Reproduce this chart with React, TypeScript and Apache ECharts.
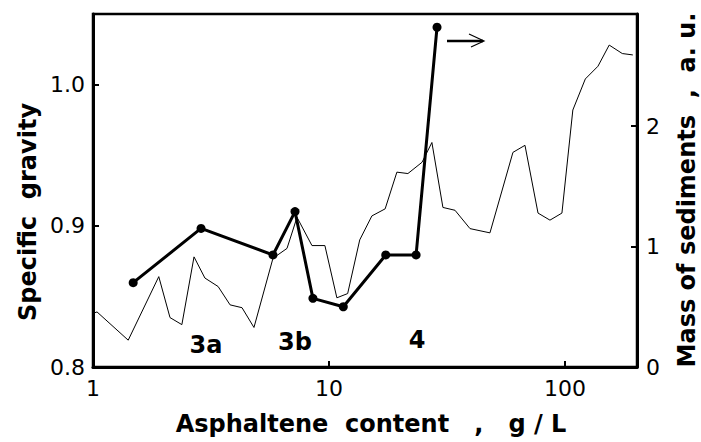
import React, { useEffect, useRef } from "react";
import * as echarts from "echarts";

// Specific gravity (thin line, left axis)
const gravityX = [1.0, 1.04, 1.41, 1.9, 2.12, 2.38, 2.68, 2.98, 3.39, 3.81, 4.28, 4.81, 5.79, 6.64, 7.32, 8.47, 9.61, 10.8, 12.0, 13.5, 15.2, 17.3, 19.4, 21.6, 24.8, 27.3, 30.4, 34.2, 39.6, 48.1, 60.2, 67.7, 76.9, 86.4, 97.1, 108, 122, 138, 154, 175, 194];
const gravityY = [0.838, 0.839, 0.819, 0.864, 0.835, 0.83, 0.878, 0.863, 0.857, 0.844, 0.842, 0.828, 0.877, 0.884, 0.906, 0.886, 0.886, 0.849, 0.852, 0.89, 0.907, 0.912, 0.938, 0.937, 0.945, 0.959, 0.913, 0.911, 0.898, 0.895, 0.952, 0.957, 0.909, 0.904, 0.909, 0.982, 1.004, 1.013, 1.028, 1.022, 1.021];

// Mass of sediments (thick line with markers, right axis)
const massX = [1.48, 2.87, 5.79, 7.18, 8.55, 11.5, 17.4, 23.4, 28.7];
const massY = [0.7, 1.15, 0.93, 1.29, 0.57, 0.5, 0.93, 0.93, 2.82];

const xTicks = [1, 10, 100];
const leftTicks = [0.8, 0.9, 1.0];
const rightTicks = [0, 1, 2];

const regionLabels = ["3a", "3b", "4"];

const FONT = "DejaVu Sans, sans-serif";

export default function App() {
  const ref = useRef<HTMLDivElement>(null);
  useEffect(() => {
    if (!ref.current) return;
    document.body.style.margin = "0";
    const chart = echarts.init(ref.current, null, { renderer: "svg" });
    const gData = gravityX.map((x, i) => [x, gravityY[i]]);
    const mData = massX.map((x, i) => [x, massY[i]]);
    const tickLabelStyle = { color: "#000", fontSize: 22, fontFamily: FONT };
    const titleStyle = {
      fontSize: 24,
      fontWeight: "bold",
      fontFamily: FONT,
      fill: "#000",
      align: "center",
      verticalAlign: "middle",
    };
    chart.setOption({
      animation: false,
      backgroundColor: "#fff",
      grid: {
        left: 93,
        right: 64,
        top: 14,
        bottom: 75,
        show: true,
        borderColor: "#000",
        borderWidth: 2.5,
        backgroundColor: "transparent",
      },
      xAxis: {
        type: "log",
        logBase: 10,
        min: 1,
        max: 202,
        axisLine: { lineStyle: { color: "#000", width: 3 } },
        axisTick: { inside: true, length: 6, lineStyle: { color: "#000", width: 2 } },
        minorTick: { show: false },
        splitLine: { show: false },
        axisLabel: {
          ...tickLabelStyle,
          margin: 10,
          formatter: (v: number) => (xTicks.includes(Math.round(v)) ? String(Math.round(v)) : ""),
        },
      },
      yAxis: [
        {
          type: "value",
          min: 0.8,
          max: 1.05,
          interval: 0.1,
          position: "left",
          axisLine: { show: true, lineStyle: { color: "#000", width: 3 } },
          axisTick: { show: true, inside: true, length: 6, lineStyle: { color: "#000", width: 2 } },
          splitLine: { show: false },
          axisLabel: {
            ...tickLabelStyle,
            margin: 8,
            formatter: (v: number) => {
              const t = leftTicks.find((k) => Math.abs(k - v) < 1e-6);
              return t !== undefined ? t.toFixed(1) : "";
            },
          },
        },
        {
          type: "value",
          min: 0,
          max: 2.93,
          interval: 1,
          position: "right",
          axisLine: { show: true, lineStyle: { color: "#000", width: 3 } },
          axisTick: { show: true, inside: true, length: 6, lineStyle: { color: "#000", width: 2 } },
          splitLine: { show: false },
          axisLabel: {
            ...tickLabelStyle,
            margin: 9,
            formatter: (v: number) => (rightTicks.includes(Math.round(v)) ? String(Math.round(v)) : ""),
          },
        },
      ],
      series: [
        {
          name: "Specific gravity",
          type: "line",
          yAxisIndex: 0,
          data: gData,
          showSymbol: false,
          symbol: "none",
          lineStyle: { color: "#000", width: 1 },
          z: 2,
        },
        {
          name: "Mass of sediments",
          type: "line",
          yAxisIndex: 1,
          data: mData,
          symbol: "circle",
          symbolSize: 9,
          itemStyle: { color: "#000" },
          lineStyle: { color: "#000", width: 3 },
          z: 3,
        },
      ],
      graphic: [
        {
          type: "text",
          x: 28,
          y: 212,
          rotation: Math.PI / 2,
          style: { ...titleStyle, text: "Specific  gravity" },
        },
        {
          type: "text",
          x: 687,
          y: 190,
          rotation: Math.PI / 2,
          style: { ...titleStyle, text: "Mass of sediments  ,  a. u." },
        },
        {
          type: "text",
          x: 371,
          y: 424,
          style: { ...titleStyle, text: "Asphaltene  content   ,   g / L" },
        },
        ...regionLabels.map((t, i) => ({
          type: "text",
          x: [206, 295, 417][i],
          y: [345, 342, 340][i],
          style: { ...titleStyle, text: t },
        })),
        {
          type: "line",
          shape: { x1: 447, y1: 41, x2: 483, y2: 41 },
          style: { stroke: "#000", lineWidth: 2.5 },
        },
        {
          type: "polyline",
          shape: { points: [[469, 34], [484, 41], [471, 47]] },
          style: { stroke: "#000", lineWidth: 1.2, fill: "none" },
        },
      ],
    });
    return () => chart.dispose();
  }, []);
  return <div ref={ref} style={{ width: 701, height: 442 }} />;
}
